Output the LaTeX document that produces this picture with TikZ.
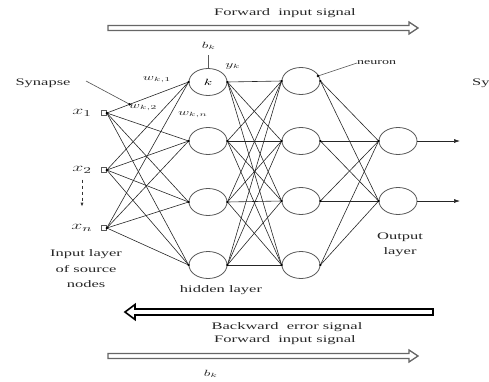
\documentclass[tikz,border=0pt]{standalone}
\usepackage{fontspec}
\setmainfont{Liberation Serif}
\usetikzlibrary{shapes.geometric,arrows.meta,calc}
\newcommand{\stretchtxt}[1]{\scalebox{1.65}[1]{#1}}
\begin{document}
\begin{tikzpicture}[x=1pt,y=-1pt,
 neur/.style={draw=black!65, ellipse, minimum width=38pt, minimum height=27pt, inner sep=0pt, line width=0.8pt},
 src/.style={draw=black!65, rectangle, minimum size=5pt, inner sep=0pt, line width=0.6pt},
 conn/.style={draw=black!85, line width=0.6pt},
 lbl/.style={font=\fontsize{10}{15.5}\selectfont, text=black!85, inner sep=0pt, align=center},
 xlbl/.style={font=\fontsize{13}{13}\selectfont, text=black!85, inner sep=0pt},
 wlbl/.style={font=\fontsize{9}{9}\selectfont, text=black!85, inner sep=0pt},
 jdot/.style={circle, fill=black, inner sep=0pt, minimum size=2.6pt},
 sigf/.style={draw=black!60, line width=1.3pt, fill=white, line join=miter},
 sigb/.style={draw=black, line width=1.6pt, fill=white, line join=miter}]
\useasboundingbox (0,0) rectangle (489,381);
\clip (0,0) rectangle (489,381);

% signal arrows
\node[lbl] (ftop) at (285,13) {\stretchtxt{Forward\enspace input signal}};
\draw[sigf] (108,25.5) -- (409,25.5) -- (409,22) -- (418,28) -- (409,34) -- (409,30.5) -- (108,30.5) -- cycle;

\draw[sigb] (433,309) -- (135,309) -- (135,304.5) -- (125,312) -- (135,319.5) -- (135,315) -- (433,315) -- cycle;
\node[lbl] (bback) at (287,327) {\stretchtxt{Backward\enspace error signal}};
\node[lbl] (fbot) at (285,340) {\stretchtxt{Forward\enspace input signal}};
\draw[sigf] (108,353.5) -- (409,353.5) -- (409,350) -- (418,356) -- (409,362) -- (409,358.5) -- (108,358.5) -- cycle;
\node[wlbl] (bkbot) at (211,374) {\stretchtxt{$b_k$}};

% input nodes
\node[src] (i1) at (104,113) {};
\node[src] (i2) at (104,170) {};
\node[src] (i3) at (104,228) {};
\node[xlbl] (x1) at (82,113) {\stretchtxt{$x_1$}};
\node[xlbl] (x2) at (82,170) {\stretchtxt{$x_2$}};
\node[xlbl] (xn) at (82,228) {\stretchtxt{$x_n$}};
\coordinate (dsa) at ($(x2.south)+(0,6)$);
\coordinate (dsb) at ($(dsa)+(0,27)$);
\draw[black!80, dashed, line width=0.7pt, -{Latex[length=4pt,width=3pt]}] (dsa) -- (dsb);

% hidden layer 1
\node[neur] (h11) at (208,82) {\fontsize{9}{9}\selectfont\stretchtxt{$k$}};
\node[neur] (h12) at (208,141) {};
\node[neur] (h13) at (208,202) {};
\node[neur] (h14) at (208,265) {};
% hidden layer 2
\node[neur] (h21) at (301,81) {};
\node[neur] (h22) at (301,141) {};
\node[neur] (h23) at (301,201) {};
\node[neur] (h24) at (301,265) {};
% output layer
\node[neur] (o1) at (398,141) {};
\node[neur] (o2) at (398,201) {};

% connections
\foreach \a in {i1,i2,i3}{
  \foreach \b in {h11,h12,h13,h14}{
    \draw[conn] (\a.east) -- (\b.west);
  }
  \node[jdot] at (\a.east) {};
}
\foreach \a in {h11,h12,h13,h14}{
  \foreach \b in {h21,h22,h23,h24}{
    \draw[conn] (\a.east) -- (\b.west);
  }
  \node[jdot] at (\a.east) {};
  \node[jdot] at (\a.west) {};
}
\foreach \a in {h21,h22,h23,h24}{
  \foreach \b in {o1,o2}{
    \draw[conn] (\a.east) -- (\b.west);
  }
  \node[jdot] at (\a.east) {};
  \node[jdot] at (\a.west) {};
}
\node[jdot] at (o1.west) {};
\node[jdot] at (o2.west) {};
\coordinate (e1) at (460,141);
\coordinate (e2) at (460,201);
\draw[conn,-{Latex[length=6pt,width=4pt]}] (o1.east) -- (e1);
\draw[conn,-{Latex[length=6pt,width=4pt]}] (o2.east) -- (e2);

% bias
\coordinate (bk) at (208,55);
\draw[black!65, line width=0.6pt] (h11.north) -- (bk);
\node[wlbl] (bklbl) at (209,46) {\stretchtxt{$b_k$}};
\node[wlbl] (yk) at (233,66) {\stretchtxt{$y_k$}};

% weights
\node[wlbl] (w1) at (157,80) {\stretchtxt{$w_{k,1}$}};
\node[wlbl] (w2) at (143,108) {\stretchtxt{$w_{k,2}$}};
\node[wlbl] (wn) at (193,115) {\stretchtxt{$w_{k,n}$}};

% synapse
\node[lbl] (syn) at (43,83) {\stretchtxt{Synapse}};
\coordinate (synpt) at ($(i1.east)!0.28!(h11.west)$);
\coordinate (sa) at (86,81);
\draw[black!70, line width=0.6pt] (sa) -- (synpt);
\node[jdot] at (synpt) {};
\node[lbl, anchor=west] (syn2) at (472,83) {\stretchtxt{Sy}};

% neuron label
\node[lbl, font=\fontsize{8.5}{8.5}\selectfont, anchor=west] (neu) at (357,63) {\stretchtxt{neuron}};
\coordinate (npt) at (318,76);
\draw[black!70, line width=0.6pt] (npt) -- (neu.west);
\node[jdot] at (npt) {};

% layer labels
\node[lbl] (inl) at (86,269) {\stretchtxt{Input layer}\\\stretchtxt{of source}\\\stretchtxt{nodes}};
\node[lbl] (hl) at (221,290) {\stretchtxt{hidden layer}};
\node[lbl] (ol) at (400,245) {\stretchtxt{Output}\\\stretchtxt{layer}};
\end{tikzpicture}
\end{document}
